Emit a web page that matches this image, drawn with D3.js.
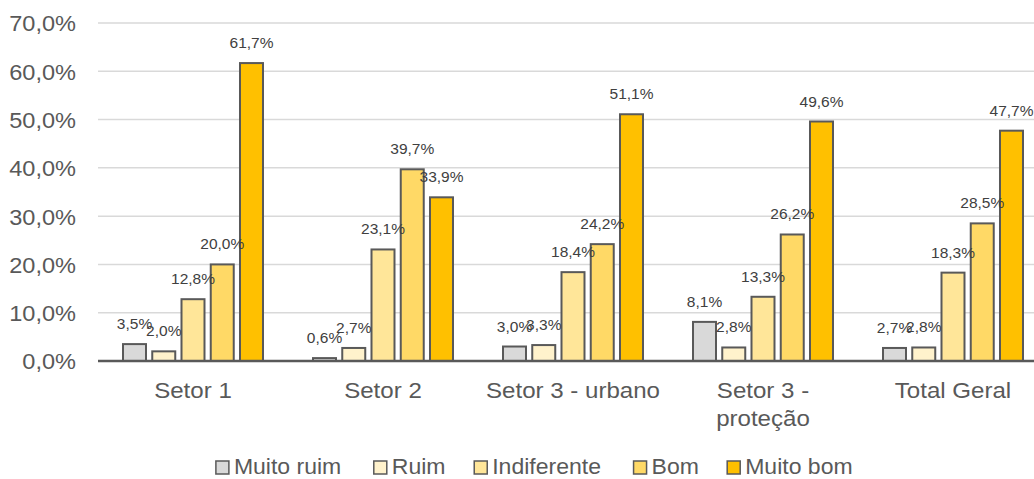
<!DOCTYPE html>
<html>
<head>
<meta charset="utf-8">
<script src="https://cdn.jsdelivr.net/npm/d3@7"></script>
<style>
  html, body { margin: 0; padding: 0; background: #fff; }
  svg { display: block; font-family: "Liberation Sans", Arial, sans-serif; }
</style>
</head>
<body>
<svg id="chart" width="1034" height="479"></svg>
<script>
// Survey results by sector, percentage of answers per rating
const categories = ["Setor 1", "Setor 2", "Setor 3 - urbano", "Setor 3 - proteção", "Total Geral"];
const categoryLines = [["Setor 1"], ["Setor 2"], ["Setor 3 - urbano"], ["Setor 3 -", "proteção"], ["Total Geral"]];
const seriesNames = ["Muito ruim", "Ruim", "Indiferente", "Bom", "Muito bom"];
const muitoRuim = [3.5, 0.6, 3.0, 8.1, 2.7];
const ruim = [2.0, 2.7, 3.3, 2.8, 2.8];
const indiferente = [12.8, 23.1, 18.4, 13.3, 18.3];
const bom = [20.0, 39.7, 24.2, 26.2, 28.5];
const muitoBom = [61.7, 33.9, 51.1, 49.6, 47.7];
const yTicks = [0, 10, 20, 30, 40, 50, 60, 70];
const colors = ["#d9d9d9", "#fff2cc", "#ffe699", "#ffd966", "#ffc000"];

const seriesValues = [muitoRuim, ruim, indiferente, bom, muitoBom];

const svg = d3.select("#chart");
const plotLeft = 98, plotRight = 1048, plotTop = 23, plotBottom = 361;
const widen = 1.07; // slightly wide lettering for the larger labels

const x0 = d3.scaleBand().domain(categories).range([plotLeft, plotRight]).padding(0);
const x1 = d3.scaleBand().domain(seriesNames).range([0, x0.bandwidth()])
  .paddingInner(0.2137).paddingOuter(0.855);
const y = d3.scaleLinear().domain([0, 70]).range([plotBottom, plotTop]);

const fmt = v => d3.format(".1f")(v).replace(".", ",") + "%";

function stretch(sel) {
  sel.each(function() {
    const w = this.getComputedTextLength();
    d3.select(this).attr("textLength", w * widen).attr("lengthAdjust", "spacingAndGlyphs");
  });
}

// Horizontal gridlines
svg.append("g").selectAll("line").data(yTicks.filter(t => t > 0)).join("line")
  .attr("x1", plotLeft).attr("x2", 1034)
  .attr("y1", d => y(d)).attr("y2", d => y(d))
  .attr("stroke", "#d9d9d9").attr("stroke-width", 1.5);

// Y axis tick labels
const yAxis = d3.axisLeft(y).tickValues(yTicks).tickSize(0).tickPadding(0).tickFormat(fmt);
const yg = svg.append("g").attr("transform", `translate(76,0)`).call(yAxis);
yg.select(".domain").remove();
yg.selectAll("text")
  .attr("font-family", "Liberation Sans, Arial, sans-serif")
  .attr("font-size", 22).attr("fill", "#595959").attr("dy", "0.36em")
  .call(stretch);

// Bars
const groups = svg.append("g").selectAll("g").data(categories).join("g")
  .attr("transform", d => `translate(${x0(d)},0)`);

groups.each(function(cat, ci) {
  const g = d3.select(this);
  const rows = seriesNames.map((s, si) => ({ s, si, v: seriesValues[si][ci] }));
  g.selectAll("rect").data(rows).join("rect")
    .attr("x", d => x1(d.s))
    .attr("y", d => y(d.v))
    .attr("width", x1.bandwidth())
    .attr("height", d => y(0) - y(d.v))
    .attr("fill", d => colors[d.si])
    .attr("stroke", "#595959").attr("stroke-width", 2);
});

// Value labels above bars
groups.each(function(cat, ci) {
  const g = d3.select(this);
  const rows = seriesNames.map((s, si) => ({ s, si, v: seriesValues[si][ci] }));
  g.selectAll("text.val").data(rows).join("text")
    .attr("class", "val")
    .attr("x", d => x1(d.s) + x1.bandwidth() / 2)
    .attr("y", d => y(d.v) - 15)
    .attr("text-anchor", "middle")
    .attr("font-size", 15.5).attr("fill", "#404040")
    .text(d => fmt(d.v));
});

// Baseline axis
svg.append("line")
  .attr("x1", plotLeft).attr("x2", 1034)
  .attr("y1", y(0)).attr("y2", y(0))
  .attr("stroke", "#595959").attr("stroke-width", 2.5);

// Category labels
categories.forEach((c, i) => {
  const cx = x0(c) + x0.bandwidth() / 2;
  categoryLines[i].forEach((line, li) => {
    svg.append("text")
      .attr("x", cx)
      .attr("y", 398 + li * 28)
      .attr("text-anchor", "middle")
      .attr("font-size", 22.5).attr("fill", "#595959")
      .text(line)
      .call(stretch);
  });
});

// Legend
const legend = svg.append("g");
const items = legend.selectAll("g").data(seriesNames).join("g");
items.append("rect")
  .attr("width", 13).attr("height", 13).attr("y", 461)
  .attr("fill", (d, i) => colors[i])
  .attr("stroke", "#595959").attr("stroke-width", 1.5);
items.append("text")
  .attr("x", 18).attr("y", 474)
  .attr("font-size", 21.5).attr("fill", "#595959")
  .text(d => d)
  .call(stretch);
let cursor = 0;
const offsets = [];
items.each(function() {
  offsets.push(cursor);
  const w = d3.select(this).select("text").node().getComputedTextLength() * widen;
  cursor += 18 + w + 25;
});
const totalW = cursor - 25;
const startX = 538 - totalW / 2;
items.attr("transform", (d, i) => `translate(${startX + offsets[i]},0)`);
</script>
</body>
</html>
